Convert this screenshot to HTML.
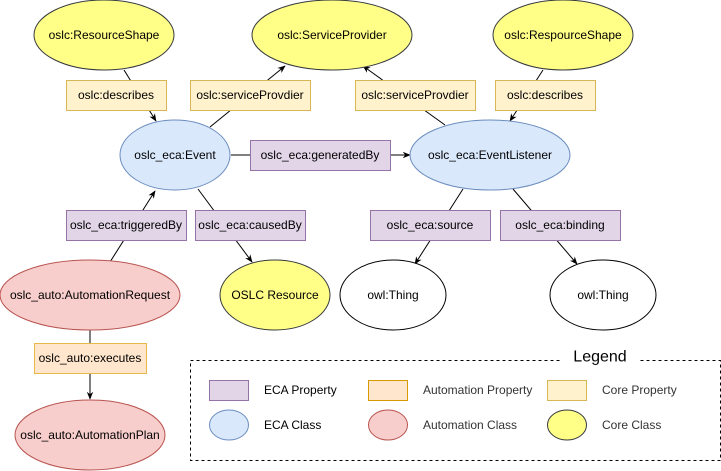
<!DOCTYPE html>
<html><head><meta charset="utf-8"><style>
html,body{margin:0;padding:0;background:#fff;}
svg{display:block;}
text{font-family:"Liberation Sans",sans-serif;font-size:12px;fill:#000;text-anchor:middle;dominant-baseline:central;}
.l{text-anchor:start;fill:#333;}
</style></head><body>
<svg width="721" height="471" viewBox="0 0 721 471">
<defs><marker id="a" viewBox="0 0 10 10" refX="9" refY="5" markerWidth="8" markerHeight="8" orient="auto"><path d="M0,1 L10,5 L0,9 L3,5 Z" fill="#000"/></marker></defs>
<g stroke="#000" stroke-width="1" fill="none">
<line x1="124" y1="70" x2="156" y2="121" marker-end="url(#a)"/>
<line x1="210" y1="127" x2="285" y2="66" marker-end="url(#a)"/>
<line x1="445" y1="125" x2="363" y2="66" marker-end="url(#a)"/>
<line x1="543" y1="70" x2="510" y2="121" marker-end="url(#a)"/>
<line x1="231" y1="155" x2="410" y2="155" marker-end="url(#a)"/>
<line x1="110" y1="262" x2="155" y2="191" marker-end="url(#a)"/>
<line x1="198" y1="189" x2="252" y2="262" marker-end="url(#a)"/>
<line x1="463" y1="189" x2="415" y2="264" marker-end="url(#a)"/>
<line x1="513" y1="189" x2="577" y2="264" marker-end="url(#a)"/>
<line x1="90" y1="330" x2="90" y2="399" marker-end="url(#a)"/>
</g>
<g stroke-width="1">
<ellipse cx="104" cy="35" rx="70" ry="35" fill="#ffff88" stroke="#36393d"/>
<ellipse cx="332" cy="35" rx="80" ry="35" fill="#ffff88" stroke="#36393d"/>
<ellipse cx="563" cy="35" rx="70" ry="35" fill="#ffff88" stroke="#36393d"/>
<ellipse cx="175" cy="155" rx="55" ry="35" fill="#dae8fc" stroke="#6c8ebf"/>
<ellipse cx="490" cy="155" rx="80" ry="35" fill="#dae8fc" stroke="#6c8ebf"/>
<ellipse cx="90" cy="295" rx="90" ry="35" fill="#f8cecc" stroke="#b85450"/>
<ellipse cx="275" cy="295" rx="55" ry="35" fill="#ffff88" stroke="#36393d"/>
<ellipse cx="393" cy="295" rx="53" ry="35" fill="#fff" stroke="#000"/>
<ellipse cx="603" cy="295" rx="53" ry="35" fill="#fff" stroke="#000"/>
<ellipse cx="90" cy="435" rx="75" ry="35" fill="#f8cecc" stroke="#b85450"/>
<rect x="66.5" y="80.5" width="100" height="30" fill="#fff2cc" stroke="#d6b656"/>
<rect x="190.5" y="80.5" width="120" height="30" fill="#fff2cc" stroke="#d6b656"/>
<rect x="355.5" y="80.5" width="120" height="30" fill="#fff2cc" stroke="#d6b656"/>
<rect x="495.5" y="80.5" width="100" height="30" fill="#fff2cc" stroke="#d6b656"/>
<rect x="250.5" y="140.5" width="140" height="30" fill="#e1d5e7" stroke="#9673a6"/>
<rect x="66.5" y="210.5" width="120" height="30" fill="#e1d5e7" stroke="#9673a6"/>
<rect x="195.5" y="210.5" width="110" height="30" fill="#e1d5e7" stroke="#9673a6"/>
<rect x="370.5" y="210.5" width="120" height="30" fill="#e1d5e7" stroke="#9673a6"/>
<rect x="500.5" y="210.5" width="120" height="30" fill="#e1d5e7" stroke="#9673a6"/>
<rect x="34.5" y="343.5" width="112" height="30" fill="#ffe6cc" stroke="#e6b84a"/>
</g>
<text x="104" y="35">oslc:ResourceShape</text>
<text x="332" y="35">oslc:ServiceProvider</text>
<text x="563" y="35">oslc:RespourceShape</text>
<text x="116" y="95">oslc:describes</text>
<text x="250" y="95">oslc:serviceProvdier</text>
<text x="415" y="95">oslc:serviceProvdier</text>
<text x="545" y="95">oslc:describes</text>
<text x="175" y="155">oslc_eca:Event</text>
<text x="490" y="155">oslc_eca:EventListener</text>
<text x="320" y="155">oslc_eca:generatedBy</text>
<text x="126" y="225">oslc_eca:triggeredBy</text>
<text x="250" y="225">oslc_eca:causedBy</text>
<text x="430" y="225">oslc_eca:source</text>
<text x="560" y="225">oslc_eca:binding</text>
<text x="90" y="295">oslc_auto:AutomationRequest</text>
<text x="275" y="295">OSLC Resource</text>
<text x="393" y="295">owl:Thing</text>
<text x="603" y="295">owl:Thing</text>
<text x="90" y="358">oslc_auto:executes</text>
<text x="90" y="435">oslc_auto:AutomationPlan</text>
<rect x="190.5" y="360.5" width="530" height="100" fill="none" stroke="#000" stroke-dasharray="3,3"/>
<rect x="560" y="350" width="80" height="16" fill="#fff"/>
<text x="600" y="357" style="font-size:16px">Legend</text>
<rect x="209.5" y="380.5" width="39" height="20" fill="#e1d5e7" stroke="#9673a6"/>
<rect x="368.5" y="380.5" width="39" height="20" fill="#ffe6cc" stroke="#d79b00"/>
<rect x="547.5" y="380.5" width="39" height="20" fill="#fff2cc" stroke="#d6b656"/>
<ellipse cx="229" cy="425" rx="19.5" ry="15" fill="#dae8fc" stroke="#6c8ebf"/>
<ellipse cx="388" cy="425" rx="19.5" ry="15" fill="#f8cecc" stroke="#b85450"/>
<ellipse cx="567" cy="425" rx="19.5" ry="15" fill="#ffff88" stroke="#36393d"/>
<text class="l" x="264" y="390" style="fill:#000">ECA Property</text>
<text class="l" x="423" y="390">Automation Property</text>
<text class="l" x="602" y="390">Core Property</text>
<text class="l" x="264" y="425" style="fill:#000">ECA Class</text>
<text class="l" x="423" y="425">Automation Class</text>
<text class="l" x="602" y="425">Core Class</text>
</svg>
</body></html>
